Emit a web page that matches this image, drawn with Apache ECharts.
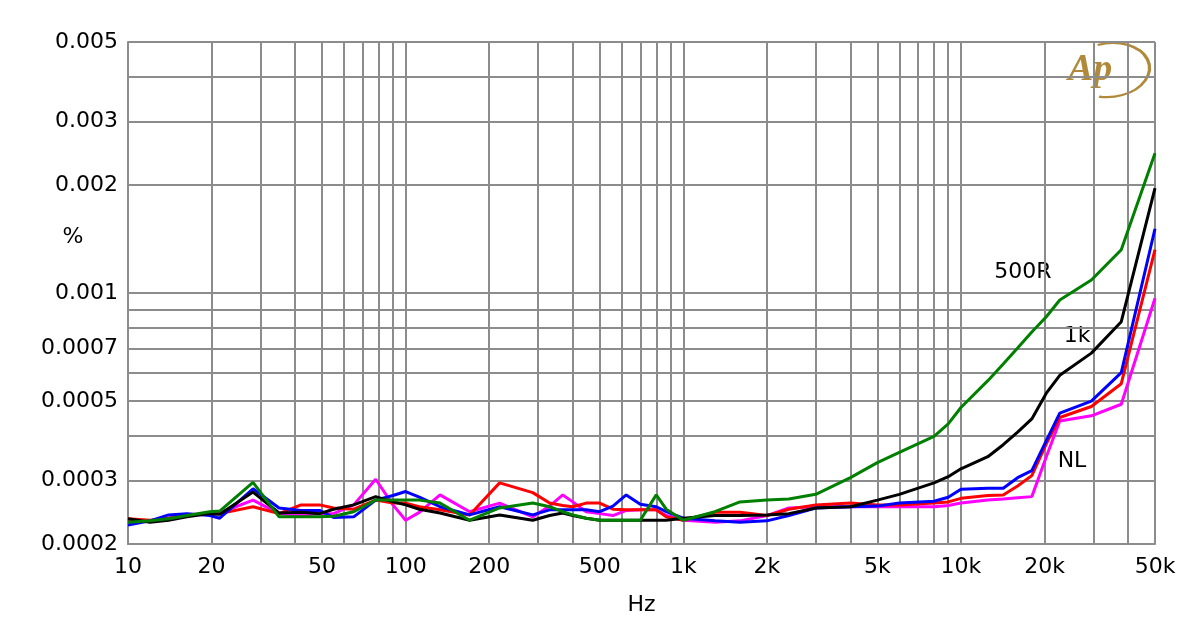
<!DOCTYPE html>
<html><head><meta charset="utf-8">
<script src="https://cdn.jsdelivr.net/npm/echarts@6/dist/echarts.min.js"></script>
<style>html,body{margin:0;padding:0;background:#fff}#c{width:1200px;height:631px}</style>
</head><body><div id="c"></div>
<script>
// Frequencies (Hz)
const freqHz = [10,12,14,16.3,19.7,21.4,28.2,35,42,49,55,65,78,90,100,112,133,170,218,287,330,368,400,447,500,558,623,700,799,868,1000,1300,1600,2000,2400,3000,4000,5000,6000,8000,9000,10000,12500,14200,16000,18000,20300,22700,29500,37800,50000];

// THD+N (%) per series
const redVals = [0.000235,0.000233,0.000236,0.000240,0.000243,0.000243,0.000254,0.000243,0.000257,0.000257,0.000252,0.000250,0.000265,0.000260,0.000260,0.000254,0.000249,0.000241,0.000296,0.000278,0.000260,0.000256,0.000254,0.000260,0.000260,0.000250,0.000249,0.000249,0.000249,0.000238,0.000233,0.000245,0.000245,0.000240,0.000250,0.000257,0.000260,0.000257,0.000257,0.000260,0.000262,0.000268,0.000273,0.000274,0.000290,0.000310,0.000380,0.000450,0.000483,0.000559,0.001320];
const blueVals = [0.000226,0.000232,0.000241,0.000243,0.000240,0.000236,0.000285,0.000252,0.000248,0.000248,0.000237,0.000238,0.000265,0.000273,0.000280,0.000270,0.000254,0.000241,0.000254,0.000241,0.000249,0.000249,0.000249,0.000249,0.000246,0.000255,0.000274,0.000258,0.000254,0.000246,0.000236,0.000232,0.000230,0.000232,0.000240,0.000252,0.000254,0.000255,0.000260,0.000263,0.000270,0.000284,0.000286,0.000286,0.000306,0.000320,0.000388,0.000463,0.000500,0.000600,0.001510];
const blackVals = [0.000235,0.000230,0.000233,0.000238,0.000243,0.000242,0.000279,0.000244,0.000245,0.000243,0.000250,0.000257,0.000271,0.000262,0.000257,0.000250,0.000244,0.000233,0.000241,0.000233,0.000240,0.000244,0.000240,0.000236,0.000233,0.000233,0.000233,0.000233,0.000233,0.000233,0.000236,0.000240,0.000240,0.000241,0.000243,0.000252,0.000254,0.000265,0.000275,0.000296,0.000308,0.000324,0.000350,0.000378,0.000410,0.000446,0.000526,0.000590,0.000680,0.000832,0.001960];
const magentaVals = [0.000233,0.000232,0.000236,0.000240,0.000244,0.000244,0.000265,0.000243,0.000240,0.000243,0.000243,0.000257,0.000303,0.000257,0.000233,0.000245,0.000274,0.000246,0.000260,0.000238,0.000255,0.000274,0.000262,0.000246,0.000243,0.000240,0.000248,0.000249,0.000249,0.000240,0.000233,0.000230,0.000232,0.000240,0.000252,0.000254,0.000254,0.000254,0.000254,0.000254,0.000256,0.000260,0.000265,0.000267,0.000269,0.000271,0.000350,0.000440,0.000455,0.000490,0.000967];
const greenVals = [0.000230,0.000232,0.000235,0.000240,0.000246,0.000247,0.000297,0.000238,0.000238,0.000238,0.000239,0.000246,0.000265,0.000265,0.000265,0.000265,0.000260,0.000233,0.000252,0.000260,0.000254,0.000246,0.000241,0.000236,0.000233,0.000233,0.000233,0.000233,0.000274,0.000250,0.000233,0.000246,0.000262,0.000265,0.000267,0.000275,0.000306,0.000337,0.000360,0.000399,0.000432,0.000480,0.000570,0.000634,0.000703,0.000779,0.000859,0.000956,0.001087,0.001320,0.002450];

// Axis ticks / grid
const xGridValues = [10,20,30,40,50,60,70,80,90,100,200,300,400,500,600,700,800,900,1000,2000,3000,4000,5000,6000,7000,8000,9000,10000,20000,30000,40000,50000];
const xLabelValues = [10,20,50,100,200,500,1000,2000,5000,10000,20000,50000];
const yGridValues = [0.0002,0.0003,0.0004,0.0005,0.0006,0.0007,0.0008,0.0009,0.001,0.002,0.003,0.004,0.005];
const yLabelValues = [0.0002,0.0003,0.0005,0.0007,0.001,0.002,0.003,0.005];

const seriesDefs = [
  {name:'magenta', color:'#ff00ff', vals: magentaVals},
  {name:'red', color:'#ff0000', vals: redVals},
  {name:'blue', color:'#0000ff', vals: blueVals},
  {name:'black', color:'#000000', vals: blackVals},
  {name:'green', color:'#008000', vals: greenVals}
];

const FONT = 'DejaVu Sans';
const chart = echarts.init(document.getElementById('c'), null, {renderer:'canvas'});
const gridColor = '#8c8c8c';

chart.setOption({
  backgroundColor:'#ffffff',
  animation:false,
  grid:{left:128, right:45, top:42, bottom:87, containLabel:false},
  xAxis:{
    type:'log', logBase:10, min:10, max:50000,
    axisLine:{show:true, lineStyle:{color:gridColor, width:2}},
    axisTick:{show:false, customValues:xGridValues},
    axisLabel:{customValues:xLabelValues, color:'#000', fontSize:22, fontFamily:FONT, margin:12,
      formatter: v => v >= 1000 ? (v/1000) + 'k' : String(v)},
    splitLine:{show:true, lineStyle:{color:gridColor, width:2}},
    name:'Hz', nameLocation:'middle', nameGap:50,
    nameTextStyle:{color:'#000', fontSize:22, fontFamily:FONT}
  },
  yAxis:{
    type:'log', logBase:10, min:0.0002, max:0.005,
    axisLine:{show:true, lineStyle:{color:gridColor, width:2}},
    axisTick:{show:false, customValues:yGridValues},
    axisLabel:{customValues:yLabelValues, color:'#000', fontSize:22, fontFamily:FONT, margin:10,
      formatter: v => String(v)},
    splitLine:{show:true, lineStyle:{color:gridColor, width:2}}
  },
  series: seriesDefs.map(s => ({
    name:s.name, type:'line', showSymbol:false, symbol:'none',
    data: freqHz.map((f,i) => [f, s.vals[i]]),
    lineStyle:{color:s.color, width:3},
    itemStyle:{color:s.color}
  })),
  graphic:[
    {type:'text', left:null, x:73, y:237, style:{text:'%', fontSize:22, fontFamily:FONT, fill:'#000', align:'center', verticalAlign:'middle'}},
    {type:'text', x:1023, y:272, style:{text:'500R', fontSize:22, fontFamily:FONT, fill:'#000', align:'center', verticalAlign:'middle'}},
    {type:'text', x:1077, y:336, style:{text:'1k', fontSize:22, fontFamily:FONT, fill:'#000', align:'center', verticalAlign:'middle'}},
    {type:'text', x:1072, y:461, style:{text:'NL', fontSize:22, fontFamily:FONT, fill:'#000', align:'center', verticalAlign:'middle'}},
    {type:'arc', shape:{cx:0, cy:0, r:36, startAngle:-Math.PI/2-0.25, endAngle:Math.PI/2+0.35, clockwise:true},
      x:1110, y:70, scaleX:1.1, scaleY:0.75, rotation:0.1,
      style:{stroke:'#b08a3a', lineWidth:3, fill:null}},
    {type:'text', x:1068, y:51, style:{text:'Ap', font:'italic bold 38px "Liberation Serif"', fill:'#b08a3a'}}
  ]
});
</script></body></html>
